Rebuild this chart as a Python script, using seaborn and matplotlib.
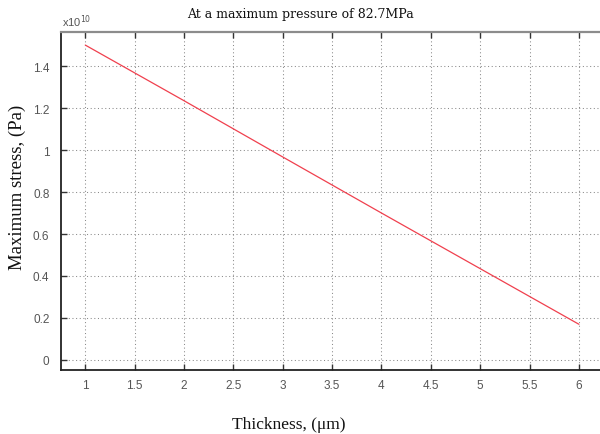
import matplotlib
matplotlib.use("Agg")
import matplotlib.pyplot as plt
import seaborn as sns
import pandas as pd

# Maximum stress (in units of 1e10 Pa) versus film thickness (µm)
thickness = [1, 2, 3, 4, 5, 6]
max_stress = [1.50, 1.235, 0.967, 0.70, 0.435, 0.17]
x_ticks = [1, 1.5, 2, 2.5, 3, 3.5, 4, 4.5, 5, 5.5, 6]
x_tick_labels = ["1", "1.5", "2", "2.5", "3", "3.5", "4", "4.5", "5", "5.5", "6"]
y_ticks = [0, 0.2, 0.4, 0.6, 0.8, 1.0, 1.2, 1.4]
y_tick_labels = ["0", "0.2", "0.4", "0.6", "0.8", "1", "1.2", "1.4"]

df = pd.DataFrame({"thickness": thickness, "stress": max_stress})

sns.set_style("white")
fig = plt.figure(figsize=(6.0, 4.35), dpi=100)
ax = fig.add_axes([0.101, 0.148, 0.905, 0.776])

sns.lineplot(data=df, x="thickness", y="stress", ax=ax,
             color="#f0404e", linewidth=0.9)

ax.set_xlim(0.75, 6.25)
ax.set_ylim(-0.046, 1.562)
ax.set_xticks(x_ticks)
ax.set_xticklabels(x_tick_labels)
ax.set_yticks(y_ticks)
ax.set_yticklabels(y_tick_labels)

for lab in ax.get_xticklabels() + ax.get_yticklabels():
    lab.set_fontfamily("Liberation Sans")
    lab.set_fontsize(8.5)
    lab.set_color("#555555")

ax.tick_params(axis="x", direction="in", length=4, width=1.0, color="#333333",
               top=True, bottom=True, pad=7)
ax.tick_params(axis="y", direction="in", length=4, width=1.0, color="#333333",
               left=True, right=False, pad=8)

ax.grid(True, linestyle=(0, (1, 2.5)), color="#8a8a8a", linewidth=0.75)

for side in ["left", "bottom"]:
    ax.spines[side].set_color("#222222")
    ax.spines[side].set_linewidth(1.3)
ax.spines["top"].set_color("#8c8c8c")
ax.spines["top"].set_linewidth(1.6)
ax.spines["right"].set_visible(False)

ax.set_xlabel("Thickness, (μm)", family="Liberation Serif", fontsize=12.5,
              color="#111111")
ax.set_ylabel("Maximum stress, (Pa)", family="Liberation Serif", fontsize=13.5,
              color="#111111")
ax.xaxis.set_label_coords(0.42, -0.161)
ax.yaxis.set_label_coords(-0.079, 0.542)
ax.xaxis.label.set_va("center")
ax.yaxis.label.set_va("center")

fig.text(0.5, 0.966, "At a maximum pressure of 82.7MPa", ha="center", va="center",
         family="DejaVu Serif", fontsize=9, color="#111111")
fig.text(0.103, 0.932, r"x10$^{10}$", ha="left", va="bottom",
         family="Liberation Sans", fontsize=8, color="#555555")

fig.savefig("out.png", dpi=100)
